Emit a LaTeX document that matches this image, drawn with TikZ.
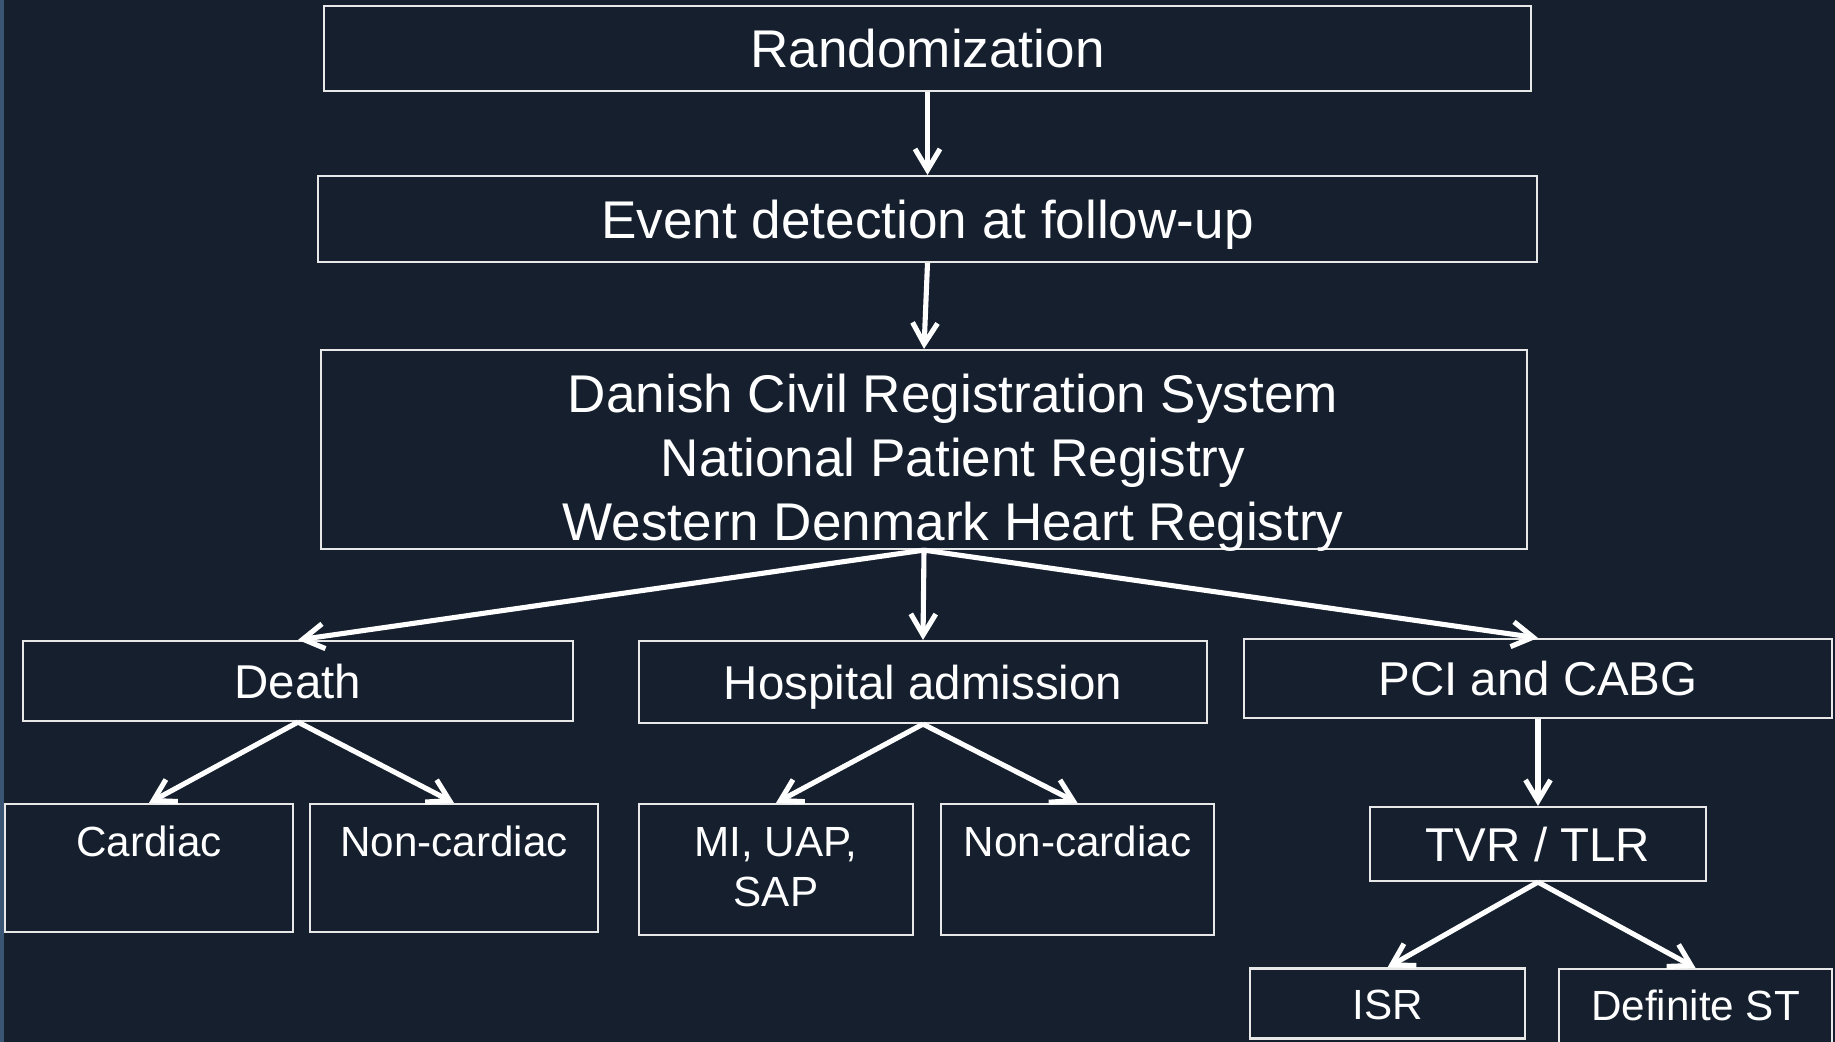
\documentclass[tikz,border=0pt]{standalone}
\usepackage{fontspec}
\setmainfont{Liberation Sans}
\usetikzlibrary{arrows.meta}
\definecolor{slide}{RGB}{21,31,46}
\definecolor{strip}{RGB}{59,85,117}
\definecolor{boxline}{RGB}{232,232,232}

\begin{document}
\begin{tikzpicture}[x=0.01cm, y=-0.01cm]
                \fill[slide] (0,0) rectangle (1835,1042);
                \fill[strip] (0,0) rectangle (3.5,1042);
                \useasboundingbox (0,0) rectangle (1835,1042);
                \begin{scope}[every node/.style={draw=boxline, line width=0.6pt, text=white, inner sep=0pt},
                        headbox/.style={font=\fontsize{15.1}{18.1}\selectfont},
                        midbox/.style={font=\fontsize{13.5}{16.2}\selectfont, text height=0.34cm, text depth=0pt},
                        leafbox/.style={font=\fontsize{12}{14.5}\selectfont, text height=0.52cm}]
                        \node[headbox, text height=0.38cm, text depth=0pt, minimum width=12.07cm, minimum height=0.85cm] (R) at (927.5,48.5) {Randomization};
                        \node[headbox, text height=0.38cm, text depth=0pt, minimum width=12.19cm, minimum height=0.86cm] (E) at (927.5,219) {Event detection at follow-up};
                        \node[headbox, text height=0.63cm, text depth=1.36cm, minimum width=12.06cm] (Reg) at (924,449.5) {\begin{tabular}[t]{@{\hspace{0.58cm}}c@{}}Danish Civil Registration System\\National Patient Registry\\Western Denmark Heart Registry\end{tabular}};
                        \node[midbox, minimum width=5.50cm, minimum height=0.80cm] (D) at (298,681) {Death};
                        \node[midbox, minimum width=5.68cm, minimum height=0.82cm] (H) at (923,682) {Hospital admission};
                        \node[midbox, minimum width=5.88cm, minimum height=0.79cm] (P) at (1538,678.5) {PCI and CABG};
                        \node[midbox, minimum width=3.36cm, minimum height=0.74cm] (T) at (1538,844) {TVR / TLR};
                        \node[leafbox, text depth=0.76cm, minimum width=2.88cm] (Ca) at (149,868) {Cardiac};
                        \node[leafbox, text depth=0.76cm, minimum width=2.88cm] (NC1) at (454,868) {Non-cardiac};
                        \node[leafbox, text depth=0.79cm, minimum width=2.73cm] (MI) at (776,869.5) {\begin{tabular}[t]{@{}c@{}}MI, UAP,\\SAP\end{tabular}};
                        \node[leafbox, text depth=0.79cm, minimum width=2.73cm] (NC2) at (1077.5,869.5) {Non-cardiac};
                        \node[leafbox, text height=0.51cm, text depth=0.19cm, minimum width=2.75cm] (I) at (1387.5,1003.5) {ISR};
                        \node[leafbox, text height=0.51cm, text depth=0.30cm, minimum width=2.73cm] (ST) at (1695.5,1009.5) {Definite ST};
                \end{scope}
                \begin{scope}[>={Straight Barb[length=2.1mm, width=2.5mm]}, every edge/.style={draw=white, line width=1.45pt, ->}]
                        \path (R.south) edge (E.north);
                        \path (E.south) edge (Reg.north);
                        \path (Reg.south) edge (D.north);
                        \path (Reg.south) edge (H.north);
                        \path (Reg.south) edge (P.north);
                        \path (D.south) edge (Ca.north);
                        \path (D.south) edge (NC1.north);
                        \path (H.south) edge (MI.north);
                        \path (H.south) edge (NC2.north);
                        \path (P.south) edge (T.north);
                        \path (T.south) edge (I.north);
                        \path (T.south) edge (ST.north);
                \end{scope}
        \end{tikzpicture}
\end{document}
